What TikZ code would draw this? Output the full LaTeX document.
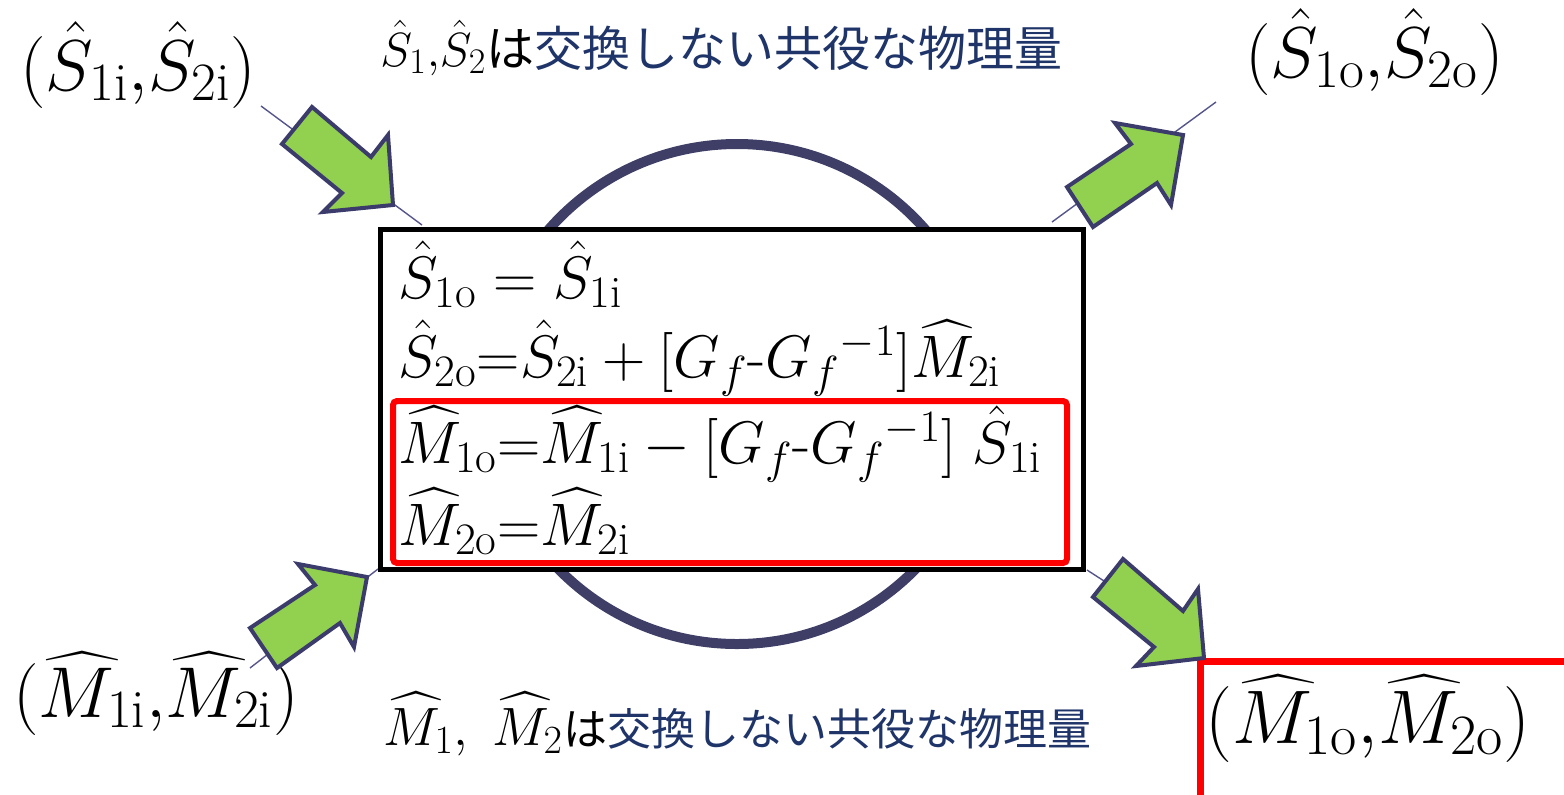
\RequirePackage{fix-cm}
\documentclass[tikz,border=0pt]{standalone}
\usepackage{amsmath}
\usepackage{fontspec}
\newfontfamily\cjk{Noto Sans CJK JP}
\DeclareMathSizes{30}{30}{22.5}{16}
\DeclareMathSizes{36}{36}{27}{19}
\DeclareMathSizes{38}{38}{28.5}{20}
\DeclareMathSizes{24}{24}{18}{13}
\DeclareMathSizes{27}{27}{20}{14}
\DeclareMathSizes{22}{22}{16.5}{12}
\definecolor{navytext}{HTML}{1F3468}
\definecolor{ringcol}{HTML}{3E3E66}
\definecolor{arrowline}{HTML}{3C3C6C}
\definecolor{arrowfill}{HTML}{92D050}
\definecolor{thinline}{HTML}{55558C}
\definecolor{redbox}{HTML}{FF0000}
\begin{document}
\begin{tikzpicture}[x=0.5pt,y=-0.5pt,
  fatarrow/.style={draw=arrowline,fill=arrowfill,line width=2pt,line join=miter},
  thin/.style={draw=thinline,line width=0.7pt},
  eq/.style={anchor=base west,inner sep=0pt,font=\fontsize{30}{34}\selectfont},
  corner/.style={anchor=base west,inner sep=0pt,font=\fontsize{36}{40}\selectfont},
  caption/.style={anchor=base west,inner sep=0pt}]
\useasboundingbox (0,0) rectangle (1564,794);
% thin connector lines
\coordinate (tlA) at (261,106); \coordinate (tlB) at (422,225);
\coordinate (trA) at (1052,222); \coordinate (trB) at (1216,102);
\coordinate (blA) at (250,668); \coordinate (blB) at (378,569);
\coordinate (brA) at (1087,570); \coordinate (brB) at (1180,630);
\draw[thin] (tlA) -- (tlB);
\draw[thin] (trA) -- (trB);
\draw[thin] (blA) -- (blB);
\draw[thin] (brA) -- (brB);
% ring
\draw[ringcol,line width=5pt] (737,394) circle[radius=125pt];
% main box
\node[draw=black,fill=white,line width=2.5pt,minimum width=351.5pt,minimum height=170pt,inner sep=0pt] (box) at (732,399.5) {};
\node[draw=redbox,line width=3pt,rounded corners=2pt,minimum width=337pt,minimum height=81pt,inner sep=0pt] (redin) at (730,482) {};
% equations
\node[eq] (e1) at (398,298) {$\hat{S}_{\mathrm{1o}}=\hat{S}_{\mathrm{1i}}$};
\node[eq] (e2) at (398,377) {$\hat{S}_{\mathrm{2o}}{=}\hat{S}_{\mathrm{2i}}+[G_f\text{-}G_f{}^{-1}]\widehat{M}_{\mathrm{2i}}$};
\node[eq] (e3) at (398,463) {$\widehat{M}_{\mathrm{1o}}{=}\widehat{M}_{\mathrm{1i}}-[G_f\text{-}G_f{}^{-1}]\;\hat{S}_{\mathrm{1i}}$};
\node[eq] (e4) at (398,545) {$\widehat{M}_{\mathrm{2o}}{=}\widehat{M}_{\mathrm{2i}}$};
% corner labels
\node[corner] (sin) at (20,90) {$(\hat{S}_{\mathrm{1i}}{,}\hat{S}_{\mathrm{2i}})$};
\node[corner] (sout) at (1245,77) {$(\hat{S}_{\mathrm{1o}}{,}\hat{S}_{\mathrm{2o}})$};
\node[corner] (min) at (13,717) {$(\widehat{M}_{\mathrm{1i}}{,}\widehat{M}_{\mathrm{2i}})$};
\node[corner,font=\fontsize{38}{42}\selectfont] (mout) at (1205,743) {$(\widehat{M}_{\mathrm{1o}}{,}\widehat{M}_{\mathrm{2o}})$};
\draw[redbox,line width=3.5pt] (1570,661.5) -- (1200.5,661.5) -- (1200.5,800);
% captions
\node[caption,font=\fontsize{24}{28}\selectfont] (capS) at (380,66) {$\hat{S}_1{,}\hat{S}_2${\cjk は}\textcolor{navytext}{\cjk 交換しない共役な物理量}};
\node[caption,font=\fontsize{27}{30}\selectfont] (capM) at (383,745) {$\widehat{M}_1,\;\widehat{M}_2${\fontsize{22}{26}\selectfont\cjk は\textcolor{navytext}{交換しない共役な物理量}}};
% green block arrows
\draw[fatarrow] (312,107) -- (282,144) -- (342,193) -- (323,212) -- (393,205) -- (388,135) -- (371,157) -- cycle;
\draw[fatarrow] (1067,187) -- (1131,144) -- (1115,123) -- (1183,135) -- (1171,205) -- (1157,183) -- (1093,227) -- cycle;
\draw[fatarrow] (250,628) -- (315,585) -- (298,564) -- (367,577) -- (354,647) -- (340,623) -- (277,668) -- cycle;
\draw[fatarrow] (1123,559) -- (1183,611) -- (1198,589) -- (1204,658) -- (1136,666) -- (1154,647) -- (1093,597) -- cycle;
\end{tikzpicture}
\end{document}
